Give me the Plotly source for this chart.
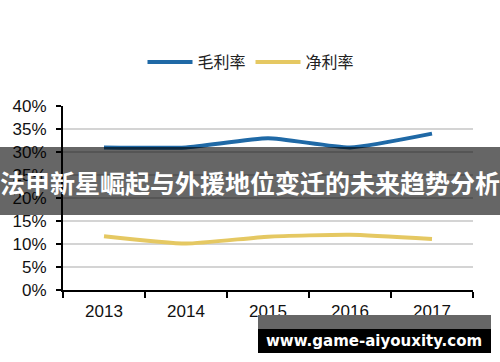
import plotly.graph_objects as go

years = ["2013", "2014", "2015", "2016", "2017"]
gross_margin = [0.31, 0.31, 0.33, 0.31, 0.34]
net_margin = [0.117, 0.101, 0.116, 0.120, 0.111]
series_names = ["毛利率", "净利率"]
y_ticks = [0, 0.05, 0.10, 0.15, 0.20, 0.25, 0.30, 0.35, 0.40]
y_tick_labels = ["0%", "5%", "10%", "15%", "20%", "25%", "30%", "35%", "40%"]
banner_text = "法甲新星崛起与外援地位变迁的未来趋势分析"
watermark_text = "www.game-aiyouxity.com"

W, H = 500, 362
L, R, T, B = 63, 27, 106, 72
pw, ph = W - L - R, H - T - B

def px(x):
    return (x - L) / pw

def py(y):
    return (H - B - y) / ph

fig = go.Figure()
fig.add_trace(go.Scatter(x=years, y=gross_margin, name=series_names[0], mode="lines",
                         line=dict(color="#1f69a6", width=4, shape="spline", smoothing=0.5)))
fig.add_trace(go.Scatter(x=years, y=net_margin, name=series_names[1], mode="lines",
                         line=dict(color="#e5c862", width=4, shape="spline", smoothing=0.5)))

fig.update_layout(
    width=W, height=H,
    margin=dict(l=L, r=R, t=T, b=B),
    paper_bgcolor="white", plot_bgcolor="white",
    font=dict(family="Liberation Sans, Arial, sans-serif", size=17, color="#111"),
    legend=dict(orientation="h", x=px(251), xanchor="center", y=py(62), yanchor="middle",
                font=dict(family="Noto Sans CJK SC", size=16, color="#222"),
                itemwidth=45, traceorder="normal"),
    xaxis=dict(type="category", range=[-0.5, 4.5], showline=True, linecolor="black", linewidth=2,
               ticks="outside", tickson="boundaries", ticklen=6, tickwidth=2, tickcolor="black",
               ticklabelstandoff=5, showgrid=False, zeroline=False),
    yaxis=dict(range=[0, 0.4], tickvals=y_ticks, ticktext=y_tick_labels, showline=True,
               linecolor="black", linewidth=2, ticks="outside", ticklen=5, tickwidth=2,
               tickcolor="black", ticklabelstandoff=6, showgrid=True, gridcolor="#d4d4d4",
               gridwidth=1.5, zeroline=False),
    shapes=[
        dict(type="rect", xref="paper", yref="paper", x0=px(0), x1=px(500), y0=py(147), y1=py(215),
             fillcolor="rgba(0,0,0,0.6)", line=dict(width=0), layer="above"),
        dict(type="rect", xref="paper", yref="paper", x0=px(258), x1=px(491), y0=py(315), y1=py(329),
             fillcolor="#666666", line=dict(width=0), layer="above"),
        dict(type="rect", xref="paper", yref="paper", x0=px(258), x1=px(491), y0=py(329), y1=py(353),
             fillcolor="#000000", line=dict(width=0), layer="above"),
    ],
    annotations=[
        dict(text=banner_text, xref="paper", yref="paper", x=px(250), y=py(182),
             xanchor="center", yanchor="middle", showarrow=False,
             font=dict(family="Noto Sans CJK SC", size=25, color="white", weight="bold")),
        dict(text=watermark_text, xref="paper", yref="paper", x=px(374), y=py(341),
             xanchor="center", yanchor="middle", showarrow=False,
             font=dict(family="DejaVu Sans", size=15, color="white", weight="bold")),
    ],
)

fig.write_html("out.html", config={"displayModeBar": False},
               post_script="document.body.style.margin='0';document.body.style.overflow='hidden';")
